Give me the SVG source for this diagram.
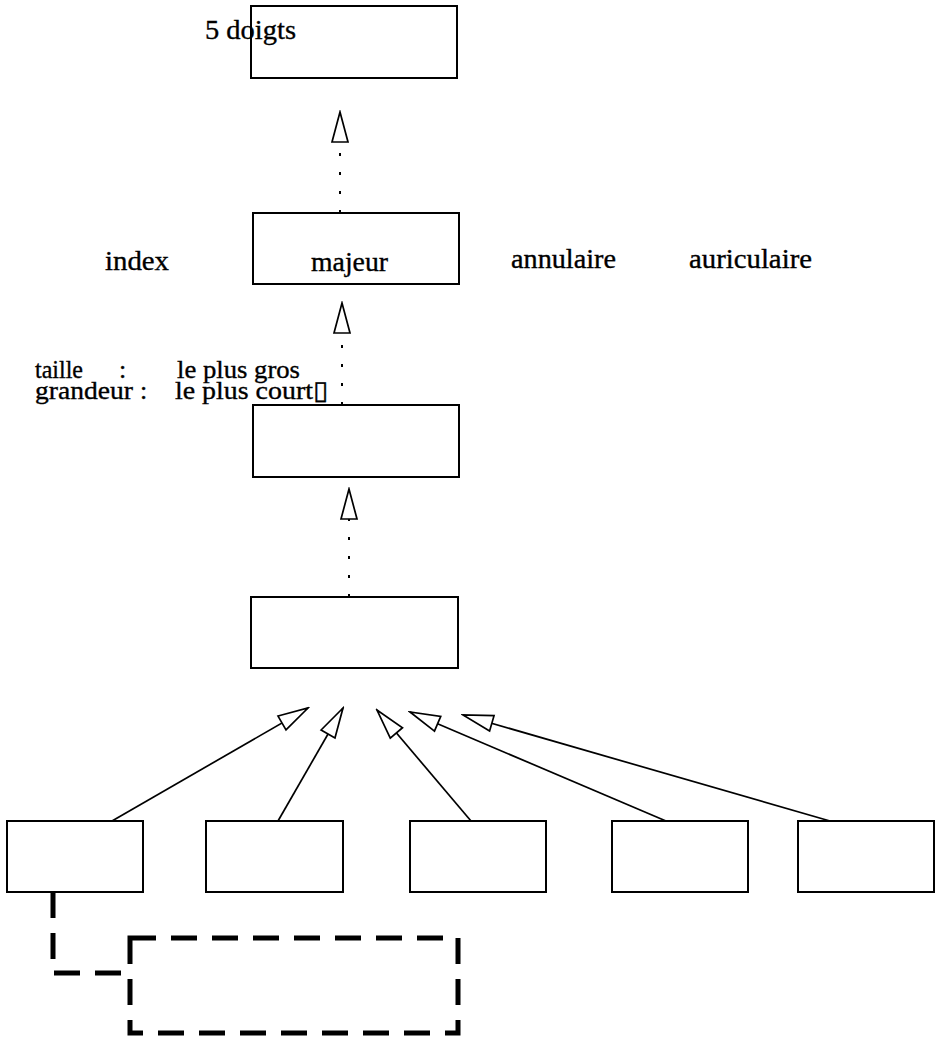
<svg xmlns="http://www.w3.org/2000/svg" width="940" height="1037" viewBox="0 0 940 1037">
<style>
.box{fill:#fff;stroke:#000;stroke-width:2}
.t{font-family:"Liberation Serif","Times New Roman",serif;font-size:27px;fill:#000;stroke:#000;stroke-width:0.35}
.s{font-size:26px}
.dot{stroke:#000;stroke-width:2;stroke-dasharray:3 16;fill:none}
.sol{stroke:#000;stroke-width:1.7;fill:none}
.thick{stroke:#000;stroke-width:5;stroke-dasharray:26 15;fill:none}
</style>
<defs>
<marker id="tri" markerUnits="userSpaceOnUse" viewBox="-2 -10 34 20" markerWidth="34" markerHeight="20" refX="30" refY="0" orient="auto">
<path d="M0,-8 L30,0 L0,8 Z" fill="#fff" stroke="#000" stroke-width="1.7" stroke-linejoin="miter"/>
</marker>
<pattern id="stip" width="41" height="31" patternUnits="userSpaceOnUse">
<rect x="5" y="7" width="1.5" height="1.5" fill="#888"/>
<rect x="22" y="19" width="1.5" height="1.5" fill="#999"/>
<rect x="31" y="4" width="1.5" height="1.5" fill="#aaa"/>
<rect x="14" y="25" width="1.5" height="1.5" fill="#888"/>
<rect x="36" y="14" width="1.5" height="1.5" fill="#999"/>
<rect x="10" y="16" width="1.5" height="1.5" fill="#aaa"/>
</pattern>
</defs>
<rect width="940" height="1037" fill="#fff"/>
<g id="connectors">
<line class="dot" x1="340" y1="213" x2="340" y2="112" marker-end="url(#tri)"/>
<line class="dot" x1="342" y1="405" x2="342" y2="303" marker-end="url(#tri)"/>
<line class="dot" x1="349" y1="597" x2="349" y2="489" marker-end="url(#tri)"/>
<line class="sol" x1="112" y1="821" x2="308" y2="708" marker-end="url(#tri)"/>
<line class="sol" x1="278" y1="821" x2="343" y2="708" marker-end="url(#tri)"/>
<line class="sol" x1="471" y1="821" x2="377" y2="710" marker-end="url(#tri)"/>
<line class="sol" x1="666" y1="821" x2="410" y2="712" marker-end="url(#tri)"/>
<line class="sol" x1="830" y1="821" x2="463" y2="715" marker-end="url(#tri)"/>
<path class="thick" d="M53,892 L53,973 L125,973"/>
</g>
<g id="node-5doigts">
<rect class="box" x="251" y="6" width="206" height="72"/>
<text class="t" x="205" y="39" textLength="91" lengthAdjust="spacingAndGlyphs">5 doigts</text>
</g>
<g id="node-majeur">
<rect class="box" x="253" y="213" width="206" height="71"/>
<text class="t" x="311" y="271" textLength="77" lengthAdjust="spacingAndGlyphs">majeur</text>
</g>
<g id="label-index"><text class="t" x="105" y="270" textLength="64" lengthAdjust="spacingAndGlyphs">index</text></g>
<g id="label-annulaire"><text class="t" x="511" y="268" textLength="105" lengthAdjust="spacingAndGlyphs">annulaire</text></g>
<g id="label-auriculaire"><text class="t" x="689" y="268" textLength="123" lengthAdjust="spacingAndGlyphs">auriculaire</text></g>
<g id="label-attributes">
<text class="t s" x="35" y="378" textLength="48" lengthAdjust="spacingAndGlyphs">taille</text>
<text class="t s" x="119" y="378">:</text>
<text class="t s" x="177" y="378" textLength="123" lengthAdjust="spacingAndGlyphs">le plus gros</text>
<text class="t s" x="35" y="399" textLength="98" lengthAdjust="spacingAndGlyphs">grandeur</text>
<text class="t s" x="140" y="399">:</text>
<text class="t s" x="175" y="399" textLength="153" lengthAdjust="spacingAndGlyphs">le plus court▯</text>
</g>
<g id="node-3">
<rect class="box" x="253" y="405" width="206" height="72"/>
</g>
<g id="node-4">
<rect class="box" x="251" y="597" width="207" height="71"/>
</g>
<g id="node-b1"><rect class="box" x="7" y="821" width="136" height="71"/></g>
<g id="node-b2"><rect class="box" x="206" y="821" width="137" height="71"/></g>
<g id="node-b3"><rect class="box" x="410" y="821" width="136" height="71"/></g>
<g id="node-b4"><rect class="box" x="612" y="821" width="136" height="71"/></g>
<g id="node-b5"><rect class="box" x="798" y="821" width="136" height="71"/></g>
<g id="node-dashed">
<rect x="130" y="938" width="328" height="95" fill="url(#stip)" class="thick"/>
</g>
</svg>
